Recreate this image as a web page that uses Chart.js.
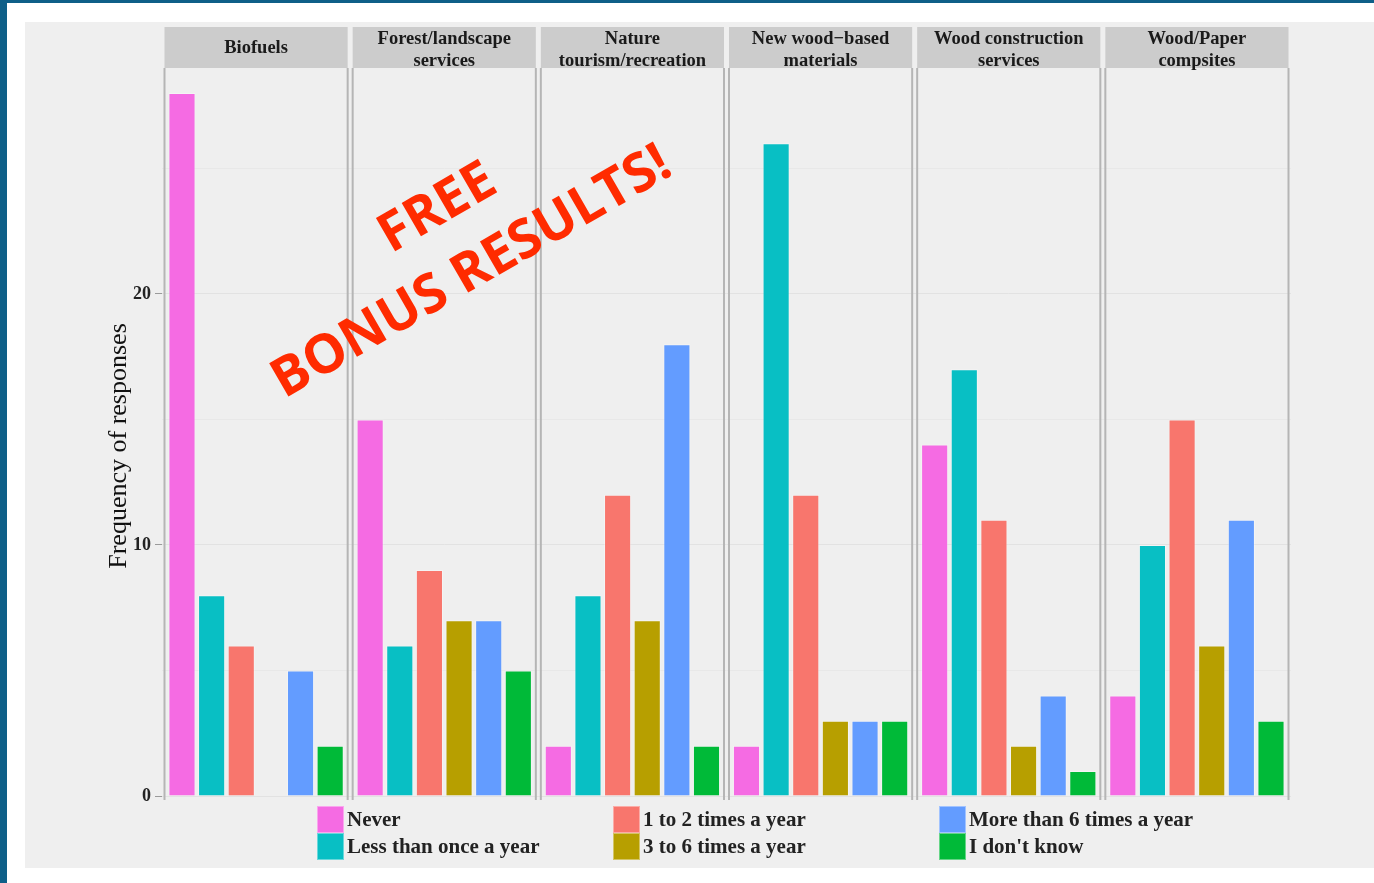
<!DOCTYPE html>
<html>
<head>
<meta charset="utf-8">
<script src="https://cdn.jsdelivr.net/npm/chart.js@4.4.1/dist/chart.umd.min.js"></script>
<style>
  html, body { margin: 0; padding: 0; background: #fff; }
  body { width: 1374px; height: 883px; position: relative; overflow: hidden; font-family: "Liberation Serif", serif; }
  .frame-top { position: absolute; left: 0; top: 0; width: 1374px; height: 3px; background: #0e5f88; }
  .frame-left { position: absolute; left: 0; top: 0; width: 7px; height: 883px; background: #0e5f88; }
  .plot { position: absolute; left: 25px; top: 22px; width: 1349px; height: 846px; background: #efefef; }
  .plot canvas { position: absolute; left: 0; top: 0; }
  .legend { position: absolute; left: 317px; top: 806px; display: grid;
    grid-template-columns: 296px 326px auto; grid-template-rows: 27px 27px; grid-auto-flow: column; }
  .legend .item { display: flex; align-items: center; font: bold 21px "Liberation Serif", serif; color: #222; }
  .legend .sw { width: 27px; height: 27px; box-sizing: border-box; border: 1px solid rgba(255,255,255,0.4); margin-right: 3px; }
  .stamp { position: absolute; transform: translate(-50%, -50%) rotate(-30deg); white-space: nowrap;
    font: bold 54px "Open Sans", sans-serif; color: #ff2b00; line-height: 1; }
</style>
</head>
<body>
<div class="frame-top"></div>
<div class="frame-left"></div>
<div class="plot"><canvas id="chart" width="1349" height="846" style="width:1349px;height:846px"></canvas></div>
<div class="legend" id="legend"></div>
<div class="stamp" style="left:435px; top:204px;">FREE</div>
<div class="stamp" style="left:469px; top:268px;">BONUS RESULTS!</div>

<script>
// ---------- Données ----------
const facets = [
  ["Biofuels"],
  ["Forest/landscape", "services"],
  ["Nature", "tourism/recreation"],
  ["New wood\u2212based", "materials"],
  ["Wood construction", "services"],
  ["Wood/Paper", "compsites"],
];
const seriesNames = [
  "Never", "Less than once a year", "1 to 2 times a year",
  "3 to 6 times a year", "More than 6 times a year", "I don't know",
];
const seriesColors = ["#f56be3", "#08bfc4", "#f8766d", "#b79f00", "#639cff", "#00ba38"];

const never      = [28, 15, 2, 2, 14, 4];
const lessOnce   = [8, 6, 8, 26, 17, 10];
const oneTwo     = [6, 9, 12, 12, 11, 15];
const threeSix   = [null, 7, 7, 3, 2, 6];
const moreSix    = [5, 7, 18, 3, 4, 11];
const dontKnow   = [2, 5, 2, 3, 1, 3];
const seriesValues = [never, lessOnce, oneTwo, threeSix, moreSix, dontKnow];

const yTicks = [0, 10, 20];
const yMax = 29;
const yTitle = "Frequency of responses";

// ---------- Légende ----------
const legend = document.getElementById("legend");
seriesNames.forEach((name, i) => {
  const item = document.createElement("div");
  item.className = "item";
  item.innerHTML = `<span class="sw" style="background:${seriesColors[i]}"></span>${name}`;
  legend.appendChild(item);
});

// ---------- Panneaux, bandeaux et titre de l'axe ----------
const facetPlugin = {
  id: "facets",
  afterDraw(chart) {
    const { ctx, chartArea: a } = chart;
    const pitch = (a.right - a.left) / facets.length;
    const gap = 2.5;
    ctx.save();
    facets.forEach((lines, i) => {
      const x0 = a.left + pitch * i + gap;
      const x1 = a.left + pitch * (i + 1) - gap;
      // bandeau
      ctx.fillStyle = "#cccccc";
      ctx.fillRect(x0, 5, x1 - x0, a.top - 5);
      ctx.fillStyle = "#1a1a1a";
      ctx.font = "bold 18.5px 'Liberation Serif', serif";
      ctx.textAlign = "center";
      ctx.textBaseline = "middle";
      const mid = (5 + a.top) / 2 + (lines.length > 1 ? 3 : 1);
      lines.forEach((t, k) => {
        ctx.fillText(t, (x0 + x1) / 2, mid + (k - (lines.length - 1) / 2) * 22);
      });
      // bordures du panneau
      ctx.strokeStyle = "#b5b5b5";
      ctx.lineWidth = 2;
      ctx.beginPath();
      ctx.moveTo(x0, a.top); ctx.lineTo(x0, a.bottom + 4);
      ctx.moveTo(x1, a.top); ctx.lineTo(x1, a.bottom + 4);
      ctx.stroke();
    });
    // titre de l'axe y (un peu sous le centre, comme l'original)
    ctx.translate(94, 424);
    ctx.rotate(-Math.PI / 2);
    ctx.fillStyle = "#111";
    ctx.font = "26px 'Liberation Serif', serif";
    ctx.textAlign = "center";
    ctx.textBaseline = "middle";
    ctx.fillText(yTitle, 0, 0);
    ctx.restore();
  },
};

const ctx = document.getElementById("chart");
new Chart(ctx, {
  type: "bar",
  data: {
    labels: facets.map((f) => f.join(" ")),
    datasets: seriesNames.map((name, i) => ({
      label: name,
      data: seriesValues[i],
      backgroundColor: seriesColors[i],
      borderColor: "rgba(255,255,255,0.35)",
      borderWidth: 1,
      categoryPercentage: 0.945,
      barPercentage: 0.915,
    })),
  },
  options: {
    responsive: false,
    animation: false,
    devicePixelRatio: 1,
    layout: { padding: { top: 46, right: 83, bottom: 72, left: 75 } },
    plugins: { legend: { display: false }, tooltip: { enabled: false } },
    scales: {
      x: { display: false },
      y: {
        min: 0,
        max: yMax,
        afterFit: (s) => { s.width = 62; },
        border: { display: false },
        grid: {
          color: (c) => (c.tick && yTicks.includes(c.tick.value) ? "#e2e2e2" : "#e8e8e8"),
          tickColor: (c) => (c.tick && yTicks.includes(c.tick.value) ? "#9a9a9a" : "rgba(0,0,0,0)"),
          tickLength: 7,
          lineWidth: 1,
        },
        ticks: {
          stepSize: 5,
          includeBounds: false,
          padding: 4,
          color: "#222",
          font: { family: "'Liberation Serif', serif", size: 18, weight: "bold" },
          callback: (v) => (yTicks.includes(v) ? String(v) : ""),
        },
      },
    },
  },
  plugins: [facetPlugin],
});
</script>
</body>
</html>
